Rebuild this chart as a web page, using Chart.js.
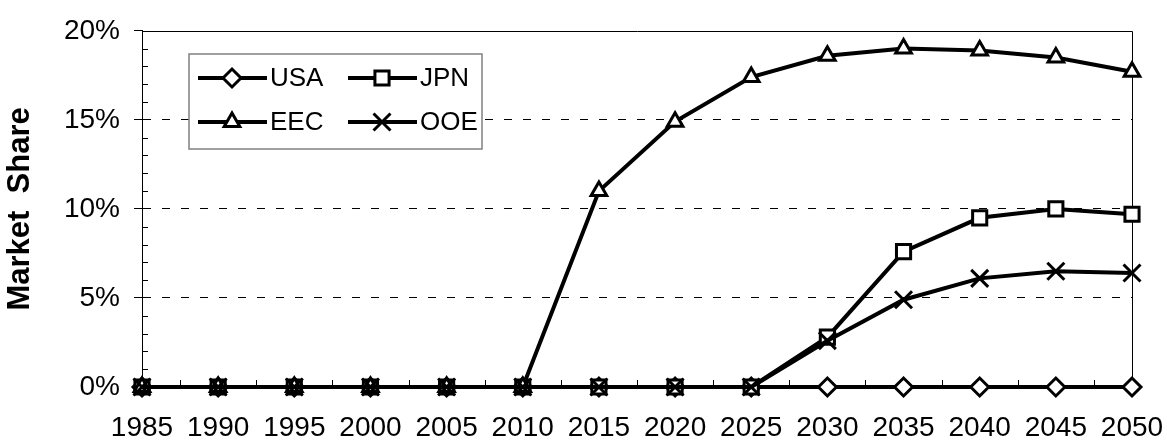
<!DOCTYPE html>
<html>
<head>
<meta charset="utf-8">
<script src="https://cdn.jsdelivr.net/npm/chart.js@4/dist/chart.umd.min.js"></script>
<style>
  html, body { margin: 0; padding: 0; background: #fff; }
  #wrap { width: 1167px; height: 442px; }
</style>
</head>
<body>
<div id="wrap"><canvas id="grafico" width="1167" height="442"></canvas></div>
<script>
// Datos (cuota de mercado, %)
const anios = ['1985', '1990', '1995', '2000', '2005', '2010', '2015', '2020', '2025', '2030', '2035', '2040', '2045', '2050'];
const usa = [0, 0, 0, 0, 0, 0, 0, 0, 0, 0, 0, 0, 0, 0];
const jpn = [0, 0, 0, 0, 0, 0, 0, 0, 0, 2.8, 7.6, 9.5, 10.0, 9.7];
const eec = [0, 0, 0, 0, 0, 0, 11.0, 14.9, 17.4, 18.6, 19.0, 18.9, 18.5, 17.7];
const ooe = [0, 0, 0, 0, 0, 0, 0, 0, 0, 2.6, 4.9, 6.1, 6.5, 6.4];
const ticksY = [0, 5, 10, 15, 20];

const fuente = '"Liberation Sans", Arial, sans-serif';

// Marco superior/derecho y marcas menores de los ejes
const marcoYMarcas = {
    id: 'marcoYMarcas',
    beforeDatasetsDraw(chart) {
        const { ctx, chartArea: a, scales: { x, y } } = chart;
        ctx.save();
        ctx.strokeStyle = '#000';
        ctx.lineWidth = 1;
        ctx.beginPath();
        ctx.moveTo(a.left, Math.round(a.top) + 0.5);
        ctx.lineTo(Math.round(a.right) + 0.5, Math.round(a.top) + 0.5);
        ctx.lineTo(Math.round(a.right) + 0.5, a.bottom);
        for (let v = 1; v < 20; v++) {
            if (v % 5 === 0) continue;
            const py = Math.round(y.getPixelForValue(v)) + 0.5;
            ctx.moveTo(a.left, py);
            ctx.lineTo(a.left + 6, py);
        }
        for (let i = 0; i < anios.length - 1; i++) {
            const px = Math.round((x.getPixelForValue(i) + x.getPixelForValue(i + 1)) / 2) + 0.5;
            ctx.moveTo(px, a.bottom);
            ctx.lineTo(px, a.bottom - 7);
        }
        ctx.stroke();
        ctx.restore();
    }
};

// Leyenda dentro del área del gráfico, en dos columnas
const leyenda = {
    id: 'leyenda',
    afterDraw(chart) {
        const ctx = chart.ctx;
        ctx.save();
        ctx.fillStyle = '#fff';
        ctx.fillRect(189, 54, 293, 95);
        ctx.strokeStyle = '#808080';
        ctx.lineWidth = 1.5;
        ctx.strokeRect(189, 54, 293, 95);
        chart.data.datasets.forEach((ds, i) => {
            const col = i % 2;
            const fila = Math.floor(i / 2);
            const x0 = 198 + col * 150;
            const yc = 78 + fila * 44;
            ctx.strokeStyle = '#000';
            ctx.lineWidth = 4;
            ctx.beginPath();
            ctx.moveTo(x0, yc);
            ctx.lineTo(x0 + 69, yc);
            ctx.stroke();
            ctx.fillStyle = '#fff';
            ctx.lineWidth = ds.pointBorderWidth;
            Chart.helpers.drawPoint(ctx, {
                pointStyle: ds.pointStyle,
                radius: ds.pointRadius,
                borderWidth: ds.pointBorderWidth,
                rotation: 0
            }, x0 + 34, yc);
            ctx.fillStyle = '#000';
            ctx.font = '26px ' + fuente;
            ctx.textBaseline = 'middle';
            ctx.textAlign = 'left';
            ctx.fillText(ds.label, x0 + 72, yc + 1);
        });
        ctx.restore();
    }
};

function serie(label, data, estilo, radio, orden) {
    return {
        label: label,
        data: data,
        borderColor: '#000',
        borderWidth: 4,
        pointStyle: estilo,
        pointRadius: radio,
        pointHoverRadius: radio,
        pointBorderWidth: 3,
        pointBackgroundColor: '#fff',
        pointBorderColor: '#000',
        tension: 0,
        clip: false,
        order: orden
    };
}

new Chart(document.getElementById('grafico'), {
    type: 'line',
    data: {
        labels: anios,
        datasets: [
            serie('USA', usa, 'rectRot', 9, 4),
            serie('JPN', jpn, 'rect', 10, 3),
            serie('EEC', eec, 'triangle', 9, 2),
            serie('OOE', ooe, 'crossRot', 12, 1)
        ]
    },
    options: {
        responsive: false,
        animation: false,
        layout: { autoPadding: false, padding: { top: 23, right: 35, bottom: 0, left: 0 } },
        plugins: {
            legend: { display: false },
            tooltip: { enabled: false }
        },
        scales: {
            x: {
                offset: false,
                // las marcas se dibujan en el plugin; tickLength solo separa las etiquetas
                grid: { display: false, drawTicks: true, tickLength: 24 },
                border: { display: true, color: '#000', width: 1 },
                ticks: {
                    padding: 0,
                    maxRotation: 0,
                    autoSkip: false,
                    color: '#000',
                    font: { family: fuente, size: 28 }
                },
                afterFit(s) { s.height = 55; }
            },
            y: {
                min: 0,
                max: 20,
                afterBuildTicks(s) { s.ticks = ticksY.map(v => ({ value: v })); },
                ticks: {
                    callback: v => v + '%',
                    padding: 14,
                    color: '#000',
                    font: { family: fuente, size: 28 }
                },
                grid: {
                    color: c => (c.tick && c.tick.value > 0 && c.tick.value < 20) ? '#000' : 'rgba(0,0,0,0)',
                    tickColor: '#000',
                    tickLength: 8,
                    lineWidth: 1
                },
                border: { color: '#000', width: 1, dash: [8, 11] },
                title: {
                    display: true,
                    text: 'Market  Share',
                    color: '#000',
                    padding: { top: 2, bottom: 0 },
                    font: { family: fuente, size: 31, weight: 'bold' }
                },
                afterFit(s) { s.width = 142; }
            }
        }
    },
    plugins: [marcoYMarcas, leyenda]
});
</script>
</body>
</html>
